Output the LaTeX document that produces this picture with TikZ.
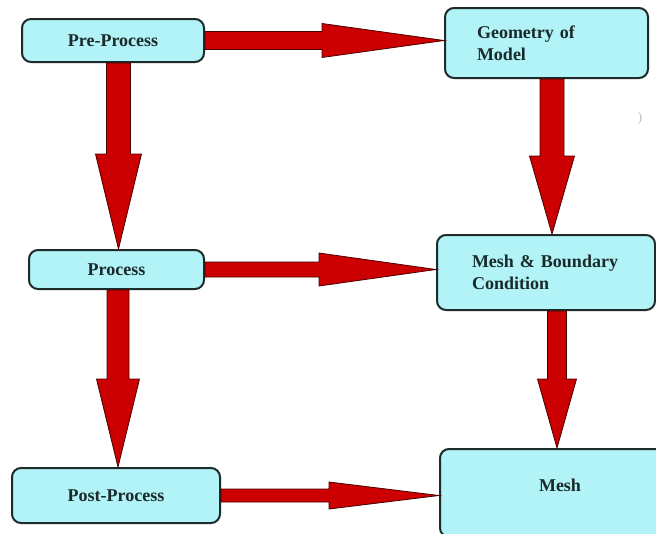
\documentclass[tikz,border=0pt]{standalone}
\usepackage{fontspec}
\setmainfont{Liberation Serif}
\usetikzlibrary{calc}
\definecolor{boxfill}{HTML}{B2F3F7}
\definecolor{boxline}{HTML}{1E2B2B}
\definecolor{arrowred}{HTML}{CC0000}
\definecolor{arrowline}{HTML}{4A0000}
\definecolor{txt}{HTML}{1A2A2A}
\tikzset{
  box/.style={draw=boxline, line width=2pt, fill=boxfill, rounded corners=9pt,
    text=txt, font=\bfseries\fontsize{18}{22}\selectfont, inner sep=0pt},
  fatarrow/.style={fill=arrowred, draw=arrowline, line width=0.8pt, line join=miter},
}
% horizontal fat arrow: from, to, shaft half width, head length, head half width
\newcommand{\harrow}[5]{%
  \filldraw[fatarrow] let \p1=#1, \p2=#2 in
    (\x1,\y1+#3) -- (\x2-#4,\y1+#3) -- (\x2-#4,\y1+#5) -- (\x2,\y1)
    -- (\x2-#4,\y1-#5) -- (\x2-#4,\y1-#3) -- (\x1,\y1-#3) -- cycle;}
% vertical (downward) fat arrow: from, to, shaft half width, head length, head half width
\newcommand{\varrow}[5]{%
  \filldraw[fatarrow] let \p1=#1, \p2=#2 in
    (\x2-#3,\y1) -- (\x2-#3,\y2+#4) -- (\x2-#5,\y2+#4) -- (\x2,\y2)
    -- (\x2+#5,\y2+#4) -- (\x2+#3,\y2+#4) -- (\x2+#3,\y1) -- cycle;}
\begin{document}
\begin{tikzpicture}[x=1pt,y=-1pt]
\path[use as bounding box, clip] (0,0) rectangle (656,533);
\fill[white] (0,0) rectangle (656,533);

\node[box, minimum width=182pt, minimum height=43pt] (pre) at (113,40.5) {Pre-Process};
\node[box, minimum width=203pt, minimum height=70pt, text width=139pt, align=left] (geo) at (546.5,43) {Geometry of\\Model};
\node[box, minimum width=175pt, minimum height=39pt] (proc) at (116.5,269.5) {Process};
\node[box, minimum width=218pt, minimum height=75pt, text width=148pt, align=left] (mbc) at (546,272.5) {Mesh \& Boundary\\Condition};
\node[box, minimum width=208pt, minimum height=55pt] (post) at (116,495.5) {Post-Process};
\node[box, minimum width=240pt, minimum height=88pt] (mesh) at (560,493) {\raisebox{8pt}[\height][\depth]{Mesh}};

\node[text=gray!55, font=\fontsize{13}{13}\selectfont] (mark) at (640,118) {)};

\harrow{(pre.east)}{(geo.west)}{9pt}{122pt}{17pt}
\harrow{(proc.east)}{(mbc.west)}{7.5pt}{117pt}{16.5pt}
\harrow{(post.east)}{(mesh.west)}{6.5pt}{110pt}{13.5pt}

\varrow{(pre.south)}{([xshift=2pt]proc.north)}{12pt}{95pt}{23pt}
\varrow{(proc.south)}{([xshift=2pt]post.north)}{11pt}{88pt}{21.5pt}
\varrow{(geo.south)}{([xshift=6pt]mbc.north)}{12pt}{78pt}{22.5pt}
\varrow{(mbc.south)}{([xshift=-3pt]mesh.north)}{9.5pt}{69pt}{19.5pt}
\end{tikzpicture}
\end{document}
